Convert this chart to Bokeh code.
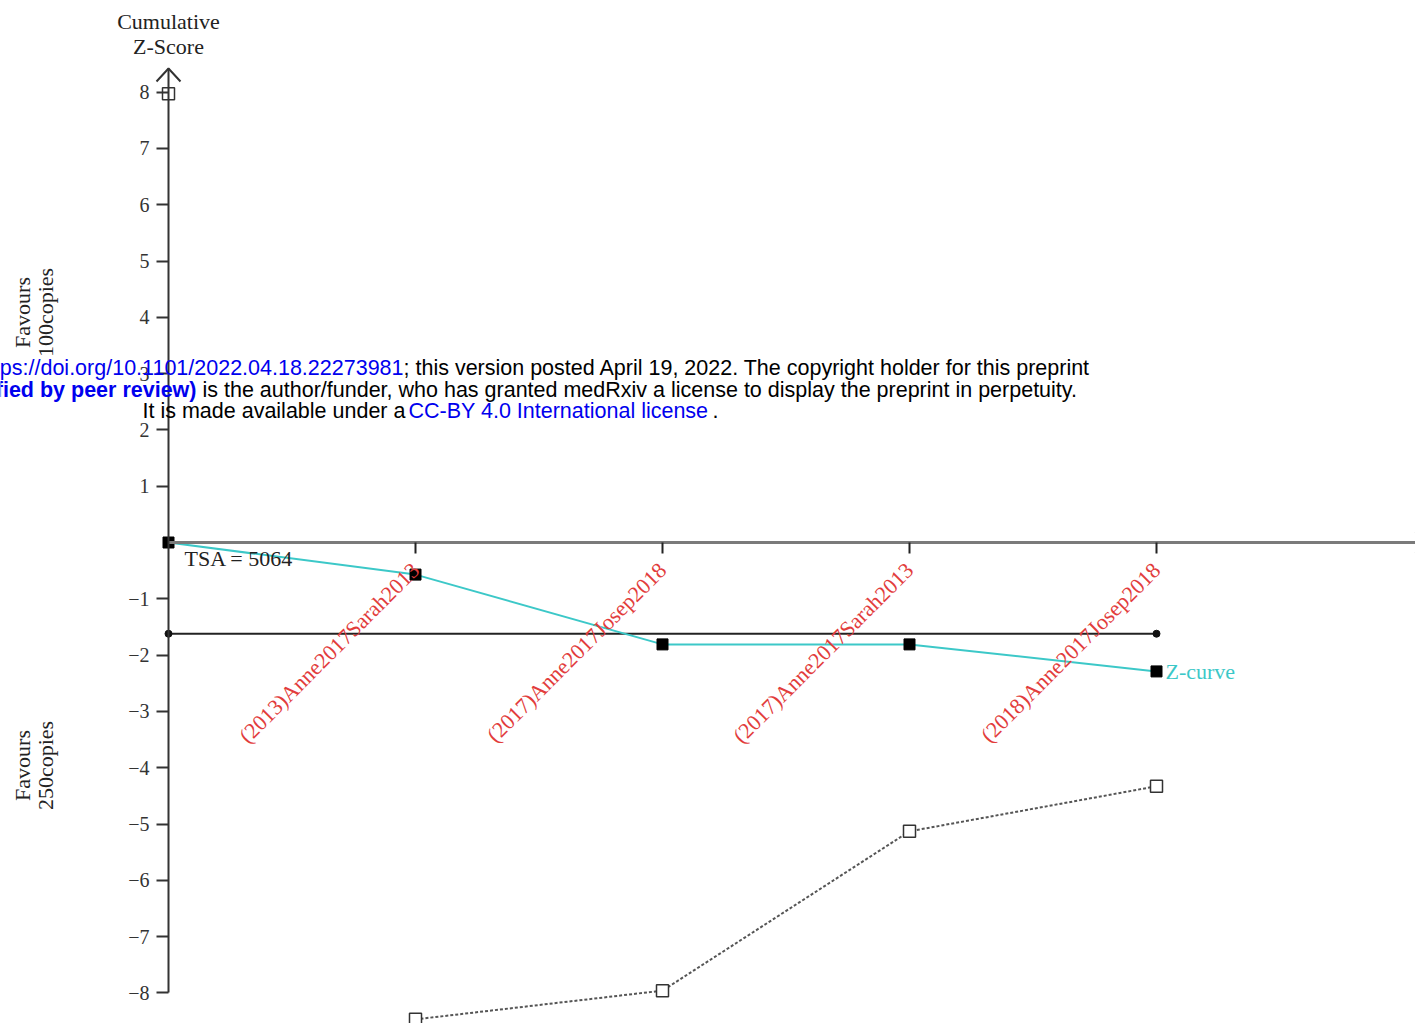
import math
from bokeh.plotting import figure
from bokeh.models import LinearAxis, FixedTicker, Range1d, Label
from bokeh.core.properties import value
from bokeh.embed import file_html
from bokeh.resources import INLINE

# ---------------- data ----------------
study_index = [0, 1, 2, 3, 4]
study_labels = ["", "(2013)Anne2017Sarah2013", "(2017)Anne2017Josep2018",
                "(2017)Anne2017Sarah2013", "(2018)Anne2017Josep2018"]
z_curve = [0.0, -0.57, -1.81, -1.81, -2.29]
tsa_x = [0, 4]
tsa_y = [-1.62, -1.62]
lower_x = [1, 2, 3, 4]
lower_y = [-8.47, -7.96, -5.13, -4.33]
upper_x = [0]
upper_y = [7.97]
y_ticks = [-8, -7, -6, -5, -4, -3, -2, -1, 1, 2, 3, 4, 5, 6, 7, 8]
y_tick_labels = ["\u22128", "\u22127", "\u22126", "\u22125", "\u22124", "\u22123", "\u22122", "\u22121",
                 "1", "2", "3", "4", "5", "6", "7", "8"]
tsa_text = "TSA = 5064"
curve_name = "Z-curve"
y_title = ["Cumulative", "Z-Score"]
favours_top = ["Favours", "100copies"]
favours_bottom = ["Favours", "250copies"]

# ---------------- geometry (picture pixels -> data) ----------------
W, H = 1415, 1023
X0, XU = 168.0, 247.0
Y0, YU = 542.0, 56.3

def ax(px):
    return (px - X0) / XU

def ay(py):
    return (Y0 - py) / YU

SERIF = "Liberation Serif"
SANS = "Liberation Sans"
RED = "#e23c3c"
CYAN = "#3cc8c8"
BLUE = "#0000ee"

p = figure(width=W, height=H,
           x_range=Range1d(ax(0), ax(W)),
           y_range=Range1d(ay(H), ay(0)),
           x_axis_type=None, y_axis_type=None,
           toolbar_location=None, output_backend="svg",
           min_border=0, outline_line_color=None,
           background_fill_color="white", border_fill_color="white")

# y axis through x = 0
yaxis = LinearAxis(fixed_location=0, ticker=FixedTicker(ticks=y_ticks),
                   major_label_overrides=dict(zip(y_ticks, y_tick_labels)),
                   bounds=(-8, ay(68)))
yaxis.axis_line_width = 2
yaxis.axis_line_color = "#333333"
yaxis.major_tick_line_color = "#333333"
yaxis.major_tick_line_width = 2
yaxis.major_tick_out = 12
yaxis.major_tick_in = 0
yaxis.minor_tick_out = 0
yaxis.minor_tick_in = 0
yaxis.major_label_standoff = 7
yaxis.major_label_text_font = SERIF
yaxis.major_label_text_font_size = "20px"
yaxis.major_label_text_color = "#333333"
p.add_layout(yaxis, "left")

# x axis through y = 0
xaxis = LinearAxis(fixed_location=0, ticker=FixedTicker(ticks=study_index[1:]),
                   major_label_overrides=dict(zip(study_index[1:], study_labels[1:])),
                   bounds=(0, ax(W + 20)))
xaxis.axis_line_width = 3
xaxis.axis_line_color = "#7a7a7a"
xaxis.major_tick_line_color = "#222222"
xaxis.major_tick_line_width = 2
xaxis.major_tick_out = 11
xaxis.major_tick_in = 0
xaxis.minor_tick_out = 0
xaxis.minor_tick_in = 0
xaxis.major_label_orientation = math.pi / 4
xaxis.major_label_standoff = 13
xaxis.major_label_text_font = SERIF
xaxis.major_label_text_font_size = "22px"
xaxis.major_label_text_color = RED
p.add_layout(xaxis, "below")

# arrow heads (decoration, sizes in pixels)
p.line([-12 / XU, 0, 12 / XU], [ay(68) - 13 / YU, ay(68), ay(68) - 13 / YU],
       line_color="#333333", line_width=2)
xe = ax(1424)
p.line([xe - 9 / XU, xe, xe - 9 / XU], [11 / YU, 0, -11 / YU],
       line_color="#7a7a7a", line_width=2)

# TSA boundary (horizontal)
p.line(tsa_x, tsa_y, line_color="#222222", line_width=2)
p.scatter(tsa_x, tsa_y, marker="circle", size=7, color="#111111")

# lower boundary (dashed, open squares)
p.line(lower_x, lower_y, line_color="#555555", line_width=2, line_dash="3 2")
p.scatter(lower_x, lower_y, marker="square", size=12, fill_color="white",
          line_color="#333333", line_width=1.5)
p.scatter(upper_x, upper_y, marker="square", size=12, fill_color="white",
          line_color="#333333", line_width=1.5)

# Z-curve
p.line(study_index, z_curve, line_color=CYAN, line_width=2)
p.scatter(study_index, z_curve, marker="square", size=11, color="#000000")
p.text(x=[study_index[-1]], y=[z_curve[-1]], text=[curve_name], x_offset=9,
       text_font=value(SERIF), text_font_size="22px", text_baseline="middle",
       text_align="left", text_color=CYAN)

# annotations
p.add_layout(Label(x=ax(184), y=ay(558), text=tsa_text, text_font=SERIF,
                   text_font_size="22px", text_color="#222222",
                   text_align="left", text_baseline="middle"))
for t, py in zip(y_title, [21, 46]):
    p.add_layout(Label(x=0, y=ay(py), text=t, text_font=SERIF, text_font_size="22px",
                       text_color="#222222", text_align="center", text_baseline="middle"))
for texts, pyc in [(favours_top, 312), (favours_bottom, 765)]:
    for t, px in zip(texts, [22, 45]):
        p.add_layout(Label(x=ax(px), y=ay(pyc), text=t, angle=math.pi / 2,
                           text_font=SERIF, text_font_size="22px", text_color="#222222",
                           text_align="center", text_baseline="middle"))

# medRxiv watermark overlay
wm = [
    ("https://doi.org/10.1101/2022.04.18.22273981", 403, 367, "right", BLUE, "normal"),
    ("; this version posted April 19, 2022. The copyright holder for this preprint", 403, 367, "left", "#000000", "normal"),
    ("(which was not certified by peer review)", 196, 389, "right", BLUE, "bold"),
    ("is the author/funder, who has granted medRxiv a license to display the preprint in perpetuity.", 202, 389, "left", "#000000", "normal"),
    ("It is made available under a", 142, 410, "left", "#000000", "normal"),
    ("CC-BY 4.0 International license", 408, 410, "left", BLUE, "normal"),
    (".", 712, 410, "left", "#000000", "normal"),
]
for t, px, py, al, col, st in wm:
    p.add_layout(Label(x=ax(px), y=ay(py), text=t, text_font=SANS, text_font_size="21.5px",
                       text_color=col, text_font_style=st, text_align=al,
                       text_baseline="middle", level="overlay"))

open("out.html", "w").write(file_html(p, INLINE))
